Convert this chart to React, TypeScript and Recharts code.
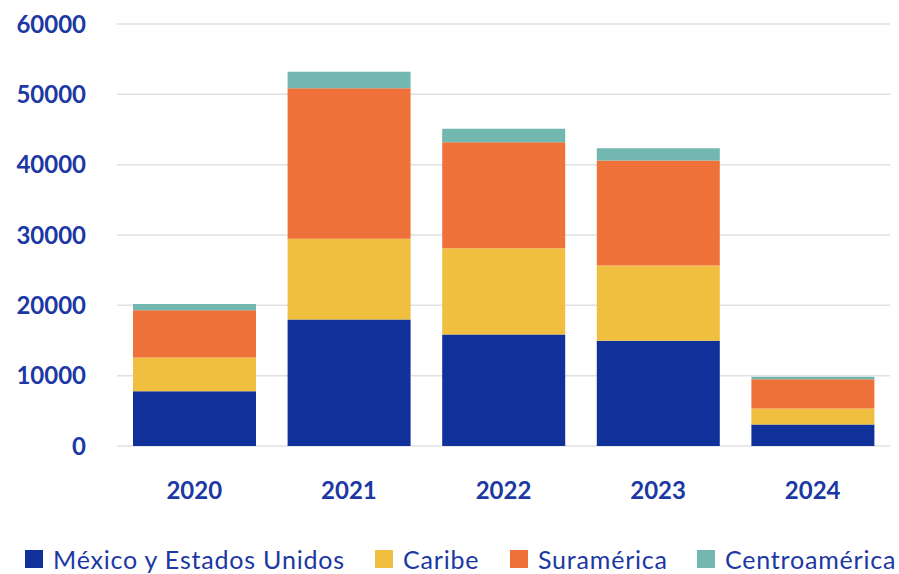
import React from 'react';
import { BarChart, Bar, XAxis, YAxis, CartesianGrid } from 'recharts';

const years = ['2020', '2021', '2022', '2023', '2024'];
const mexicoEEUU = [7800, 18000, 15850, 14950, 3050];
const caribe = [4800, 11450, 12250, 10700, 2280];
const suramerica = [6700, 21400, 15100, 14950, 4170];
const centroamerica = [900, 2350, 1900, 1750, 330];
const yTicks = [0, 10000, 20000, 30000, 40000, 50000, 60000];

const seriesNames = ['México y Estados Unidos', 'Caribe', 'Suramérica', 'Centroamérica'];
const seriesKeys = ['mexico', 'caribe', 'sur', 'centro'];
const seriesColors = ['#10309a', '#f0bf3f', '#ef713a', '#72b8b0'];

const TEXT_BLUE = '#1b38a3';
const FONT = 'Lato, "Open Sans", sans-serif';

const data = years.map((year, i) => ({
  year,
  mexico: mexicoEEUU[i],
  caribe: caribe[i],
  sur: suramerica[i],
  centro: centroamerica[i],
}));

// legend positions follow the reference layout
const legendLeft = [25, 375, 510, 697];

function LegendRow() {
  return (
    <div style={{ position: 'absolute', left: 0, top: 545, width: 899, height: 28 }}>
      {seriesNames.map((name, i) => (
        <div
          key={name}
          style={{
            position: 'absolute',
            left: legendLeft[i],
            top: 0,
            display: 'flex',
            alignItems: 'center',
            whiteSpace: 'nowrap',
          }}
        >
          <span style={{ width: 18, height: 18, background: seriesColors[i], display: 'inline-block', marginRight: 10 }} />
          <span style={{ fontFamily: FONT, fontSize: 25, letterSpacing: 0.8, color: TEXT_BLUE, lineHeight: '28px' }}>{name}</span>
        </div>
      ))}
    </div>
  );
}

export default function App() {
  return (
    <div style={{ position: 'absolute', left: 0, top: 0, width: 899, height: 574, background: '#fff' }}>
      <BarChart
        width={899}
        height={574}
        data={data}
        margin={{ top: 24, right: 9, left: 0, bottom: 68 }}
        barCategoryGap={16}
      >
        <CartesianGrid vertical={false} stroke="#e0e0e0" strokeWidth={1.5} />
        <XAxis
          dataKey="year"
          axisLine={false}
          tickLine={false}
          tickSize={0}
          tickMargin={36}
          height={60}
          tick={{ fill: TEXT_BLUE, fontSize: 24, fontWeight: 700, fontFamily: FONT }}
        />
        <YAxis
          width={117}
          domain={[0, 60000]}
          ticks={yTicks}
          axisLine={false}
          tickLine={false}
          tickSize={0}
          tickMargin={31}
          tick={{ fill: TEXT_BLUE, fontSize: 24, fontWeight: 700, fontFamily: FONT }}
        />
        {seriesKeys.map((key, i) => (
          <Bar
            key={key}
            dataKey={key}
            name={seriesNames[i]}
            stackId="a"
            fill={seriesColors[i]}
            isAnimationActive={false}
          />
        ))}
      </BarChart>
      <LegendRow />
    </div>
  );
}
